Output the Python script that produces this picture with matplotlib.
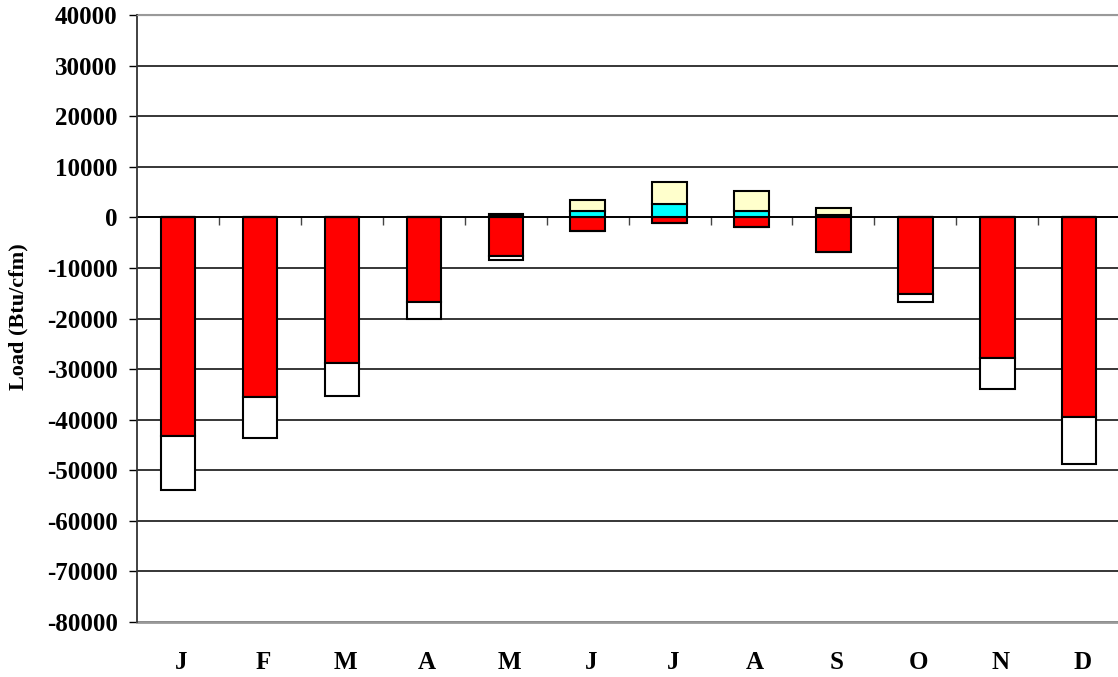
import numpy as np
import matplotlib.pyplot as plt
from matplotlib.transforms import blended_transform_factory

# Monthly loads (Btu/cfm)
months = ['J', 'F', 'M', 'A', 'M', 'J', 'J', 'A', 'S', 'O', 'N', 'D']
heating_sensible = [-43300, -35500, -28700, -16800, -7700, -2700, -1100, -1900, -6900, -15200, -27800, -39500]
heating_latent = [-10700, -8200, -6700, -3200, -800, 0, 0, 0, 0, -1600, -6100, -9300]
cooling_sensible = [0, 0, 0, 0, 200, 1250, 2550, 1250, 500, 0, 0, 0]
cooling_latent = [0, 0, 0, 0, 400, 2100, 4350, 4050, 1300, 0, 0, 0]
y_ticks = list(range(-80000, 40001, 10000))

plt.rcParams['font.family'] = ['Liberation Serif', 'DejaVu Serif']
plt.rcParams['font.weight'] = 'bold'

fig = plt.figure(figsize=(11.18, 6.77), dpi=100)
ax = fig.add_axes([137 / 1118, 1 - 622 / 677, 1 - 137 / 1118 + 0.002, 607 / 677])

x = np.arange(len(months))
w = 0.42
kw = dict(width=w, edgecolor='black', linewidth=1.5, zorder=3)

# Heating below zero, cooling above
ax.bar(x, heating_sensible, color='#FF0000', **kw)
ax.bar(x, heating_latent, bottom=heating_sensible, color='white', **kw)
ax.bar(x, cooling_sensible, color='#00FFFF', **kw)
ax.bar(x, cooling_latent, bottom=cooling_sensible, color='#FFFFCC', **kw)

ax.set_xlim(-0.5, len(months) - 0.5)
ax.set_ylim(-80000, 40000)
ax.set_yticks(y_ticks)
ax.set_yticklabels([str(v) for v in y_ticks], fontsize=18, fontweight='bold')
ax.yaxis.grid(True, color='black', linewidth=1.1, zorder=0)
ax.set_axisbelow(True)
ax.tick_params(axis='y', length=6, width=1.0, pad=8, direction='out')

# Category axis drawn along the zero line
ax.spines['bottom'].set_position(('data', 0))
ax.spines['bottom'].set_linewidth(1.3)
ax.spines['bottom'].set_zorder(2)
ax.set_xticks(x[:-1] + 0.5)
ax.set_xticklabels([])
ax.tick_params(axis='x', length=6, width=1.0, direction='out', color='#444444')

ax.spines['right'].set_visible(False)
ax.spines['top'].set_color('#999999')
ax.spines['left'].set_color('#333333')
ax.spines['left'].set_linewidth(1.3)
ax.axhline(-80000, color='#999999', linewidth=2.0, zorder=1, clip_on=False)
ax.axhline(40000, color='#999999', linewidth=1.5, zorder=1, clip_on=False)

# Month labels under the plot area
trans = blended_transform_factory(ax.transData, ax.transAxes)
for i, m in enumerate(months):
    ax.text(i + 0.04, -0.0675, m, transform=trans, ha='center', va='center',
            fontsize=18, fontweight='bold')

fig.text(18 / 1118, 1 - 317 / 677, 'Load (Btu/cfm)', rotation=90, ha='center', va='center',
         fontsize=16, fontweight='bold')

fig.savefig('out.png', dpi=100)
